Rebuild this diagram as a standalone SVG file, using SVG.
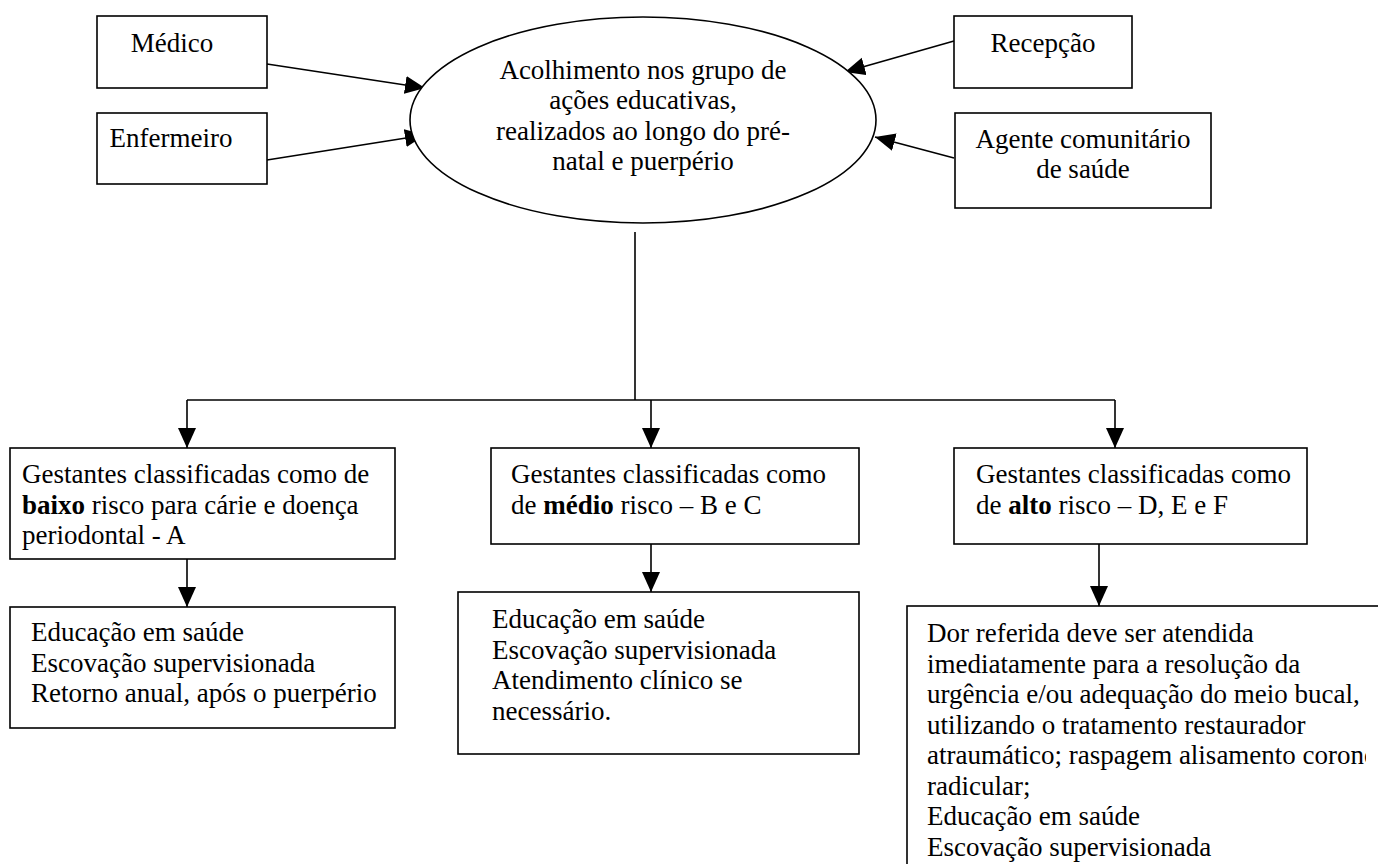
<svg xmlns="http://www.w3.org/2000/svg" width="1378" height="864" viewBox="0 0 1378 864" font-family="'Liberation Serif', 'Times New Roman', 'DejaVu Serif', serif">
<style>
.box{fill:#fff;stroke:#000;stroke-width:1.6}
.ln{fill:none;stroke:#000;stroke-width:1.6}
text{font-family:"Liberation Serif","Times New Roman","DejaVu Serif",serif;font-size:27px;fill:#000}
.c{text-anchor:middle}
.b{font-weight:bold}
</style>
<defs>
<marker id="ah" markerUnits="userSpaceOnUse" markerWidth="21" markerHeight="20" refX="20" refY="9" orient="auto">
<path d="M0,0 L20,9 L0,18 Z" fill="#000"/>
</marker>
<clipPath id="clip3b"><rect x="0" y="0" width="1366" height="864"/></clipPath>
</defs>
<rect width="1378" height="864" fill="#fff"/>

<g id="connectors">
<line class="ln" x1="267" y1="64" x2="425" y2="88" marker-end="url(#ah)"/>
<line class="ln" x1="267" y1="160" x2="425" y2="135" marker-end="url(#ah)"/>
<line class="ln" x1="954" y1="41" x2="845" y2="72" marker-end="url(#ah)"/>
<line class="ln" x1="954" y1="158" x2="875" y2="137" marker-end="url(#ah)"/>
<line class="ln" x1="635" y1="232" x2="635" y2="400"/>
<line class="ln" x1="187" y1="400" x2="1115" y2="400"/>
<line class="ln" x1="187" y1="400" x2="187" y2="448" marker-end="url(#ah)"/>
<line class="ln" x1="651" y1="400" x2="651" y2="448" marker-end="url(#ah)"/>
<line class="ln" x1="1115" y1="400" x2="1115" y2="448" marker-end="url(#ah)"/>
<line class="ln" x1="187" y1="559" x2="187" y2="607" marker-end="url(#ah)"/>
<line class="ln" x1="651" y1="544" x2="651" y2="592" marker-end="url(#ah)"/>
<line class="ln" x1="1099" y1="544" x2="1099" y2="606" marker-end="url(#ah)"/>
</g>

<g id="medico">
<rect class="box" x="97" y="16" width="170" height="72"/>
<text class="c" x="172" y="52">Médico</text>
</g>
<g id="enfermeiro">
<rect class="box" x="97" y="113" width="170" height="71"/>
<text class="c" x="171" y="147">Enfermeiro</text>
</g>
<g id="acolhimento">
<ellipse class="box" cx="643" cy="120" rx="233" ry="103"/>
<text class="c" x="643" y="78.5">Acolhimento nos grupo de</text>
<text class="c" x="643" y="109">ações educativas,</text>
<text class="c" x="643" y="139.5">realizados ao longo do pré-</text>
<text class="c" x="643" y="170">natal e puerpério</text>
</g>
<g id="recepcao">
<rect class="box" x="954" y="16" width="178" height="72"/>
<text class="c" x="1043" y="52">Recepção</text>
</g>
<g id="agente">
<rect class="box" x="955" y="113" width="256" height="95"/>
<text class="c" x="1083" y="148">Agente comunitário</text>
<text class="c" x="1083" y="178">de saúde</text>
</g>

<g id="baixo">
<rect class="box" x="10" y="448" width="385" height="111"/>
<text x="22" y="483">Gestantes classificadas como de</text>
<text x="22" y="513.5"><tspan class="b">baixo</tspan> risco para cárie e doença</text>
<text x="22" y="544">periodontal - A</text>
</g>
<g id="medio">
<rect class="box" x="491" y="448" width="368" height="96"/>
<text x="511" y="483">Gestantes classificadas como</text>
<text x="511" y="513.5">de <tspan class="b">médio</tspan> risco – B e C</text>
</g>
<g id="alto">
<rect class="box" x="954" y="448" width="353" height="96"/>
<text x="976" y="483">Gestantes classificadas como</text>
<text x="976" y="513.5">de <tspan class="b">alto</tspan> risco – D, E e F</text>
</g>

<g id="acoes-baixo">
<rect class="box" x="10" y="607" width="385" height="121"/>
<text x="31" y="641">Educação em saúde</text>
<text x="31" y="671.5">Escovação supervisionada</text>
<text x="31" y="702">Retorno anual, após o puerpério</text>
</g>
<g id="acoes-medio">
<rect class="box" x="458" y="592" width="401" height="162"/>
<text x="492" y="628">Educação em saúde</text>
<text x="492" y="658.5">Escovação supervisionada</text>
<text x="492" y="689">Atendimento clínico se</text>
<text x="492" y="719.5">necessário.</text>
</g>
<g id="acoes-alto">
<rect class="box" x="907" y="606" width="500" height="300"/>
<g clip-path="url(#clip3b)">
<text x="927" y="642">Dor referida deve ser atendida</text>
<text x="927" y="672.5">imediatamente para a resolução da</text>
<text x="927" y="703">urgência e/ou adequação do meio bucal,</text>
<text x="927" y="733.5">utilizando o tratamento restaurador</text>
<text x="927" y="764">atraumático; raspagem alisamento corono</text>
<text x="927" y="794.5">radicular;</text>
<text x="927" y="825">Educação em saúde</text>
<text x="927" y="855.5">Escovação supervisionada</text>
</g>
</g>
</svg>
